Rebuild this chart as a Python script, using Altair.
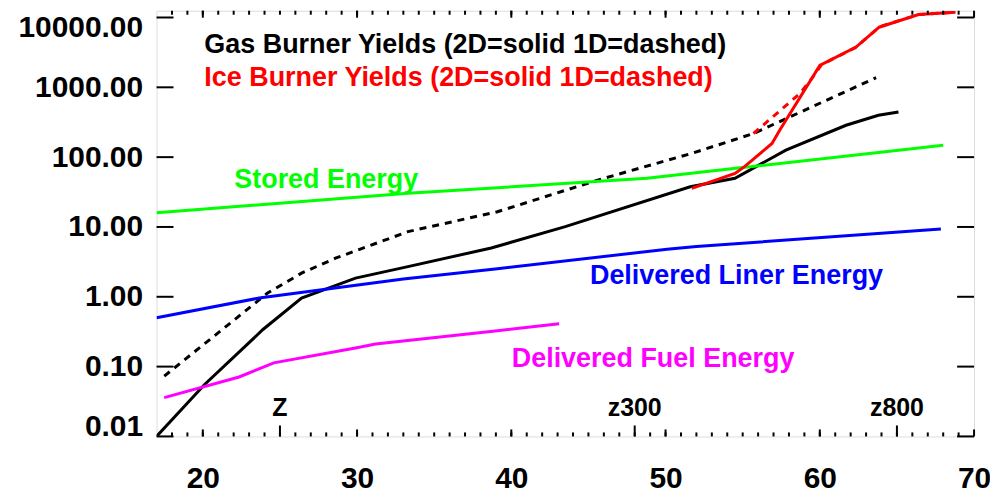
import altair as alt
import pandas as pd

# ---------------- data ----------------
gas2d_x = [17.0, 20.1, 23.9, 26.4, 29.9, 33.3, 38.7, 43.5, 51.6, 54.5, 57.8, 61.7, 63.8, 65.1]
gas2d_y = [0.01, 0.055, 0.34, 0.96, 1.85, 2.7, 5.0, 10.1, 37.6, 49.7, 126, 286, 398, 444]

gas1d_x = [17.5, 24.2, 26.4, 28.6, 33.3, 39.1, 45.6, 51.8, 55.7, 63.65]
gas1d_y = [0.073, 1.13, 2.18, 3.57, 8.57, 16.5, 46.9, 115, 218, 1376]

ice2d_x = [51.7, 54.5, 55.1, 56.9, 57.4, 60.0, 62.35, 63.85, 66.4, 68.8]
ice2d_y = [35.7, 58.5, 72.6, 157, 243, 2060, 3770, 7260, 11030, 11900]

ice1d_x = [55.7, 58.7, 59.5, 60.1, 62.3, 63.9, 66.4, 68.8]
ice1d_y = [218, 813, 1350, 2100, 3700, 7400, 11000, 11900]

stored_x = [17.0, 33.3, 48.8, 54.7, 68.0]
stored_y = [16.0, 30.3, 49.7, 69.7, 148]

liner_x = [17.0, 23.65, 33.0, 39.1, 50.1, 52.0, 67.85]
liner_y = [0.50, 0.96, 1.8, 2.52, 4.8, 5.24, 9.36]

fuel_x = [17.5, 22.35, 24.6, 29.9, 31.2, 39.1, 43.1]
fuel_y = [0.036, 0.071, 0.113, 0.185, 0.211, 0.327, 0.411]

x_tick_labels = [20, 30, 40, 50, 60, 70]
x_minor_ticks = list(range(18, 70))
y_ticks = [0.01, 0.1, 1, 10, 100, 1000, 10000]

z_ticks = [25, 48, 65]
z_labels = ["Z", "z300", "z800"]
z_label_y = [0.0195, 0.0195, 0.0195]

note_text = ["Gas Burner Yields (2D=solid 1D=dashed)",
             "Ice Burner Yields (2D=solid 1D=dashed)",
             "Stored Energy",
             "Delivered Liner Energy",
             "Delivered Fuel Energy"]
note_x = [20.1, 20.1, 22.04, 45.1, 40.03]
note_y = [3070, 1028, 35.6, 1.53, 0.0975]
note_color = ["#000000", "#ff0000", "#00ff00", "#0000ff", "#ff00ff"]

# ---------------- chart ----------------
W, H = 820, 427
FONT = "Liberation Sans"

xscale = alt.Scale(domain=[17, 70], nice=False, zero=False)
yscale = alt.Scale(type="log", domain=[0.01, 12500], nice=False)

xaxis = alt.Axis(values=x_tick_labels, format="d", labelFont=FONT, labelFontSize=30,
                 labelFontWeight="bold", labelColor="black", labelPadding=27,
                 ticks=False, tickSize=0, domain=False, grid=False, labelFlush=False,
                 title=None)
yaxis = alt.Axis(values=y_ticks, format=".2f", labelFont=FONT, labelFontSize=30,
                 labelFontWeight="bold", labelColor="black", labelPadding=14,
                 ticks=False, tickSize=0, domain=False, grid=False,
                 labelFlush=8, labelFlushOffset=5, title=None)

X = lambda: alt.X("x:Q", scale=xscale, axis=xaxis)
Y = lambda: alt.Y("y:Q", scale=yscale, axis=yaxis)


def series(xs, ys, color, dashed=False):
    kw = dict(color=color, strokeWidth=3, clip=True)
    if dashed:
        kw["strokeDash"] = [7, 6]
    return alt.Chart(pd.DataFrame({"x": xs, "y": ys})).mark_line(**kw).encode(
        x=X(), y=Y(), order="x:Q")


layers = [
    series(gas2d_x, gas2d_y, "#000000"),
    series(gas1d_x, gas1d_y, "#000000", dashed=True),
    series(stored_x, stored_y, "#00ff00"),
    series(liner_x, liner_y, "#0000ff"),
    series(fuel_x, fuel_y, "#ff00ff"),
    series(ice1d_x, ice1d_y, "#ff0000", dashed=True),
    series(ice2d_x, ice2d_y, "#ff0000"),
]

# y ticks (inward, both sides)
ytick_df = pd.DataFrame({"y": y_ticks})
layers.append(alt.Chart(ytick_df).mark_rule(color="black", strokeWidth=2).encode(
    y=Y(), x=alt.value(0), x2=alt.value(17)))
layers.append(alt.Chart(ytick_df).mark_rule(color="black", strokeWidth=2).encode(
    y=Y(), x=alt.value(W - 17), x2=alt.value(W)))

# x ticks (inward, bottom and top)
minor_df = pd.DataFrame({"x": x_minor_ticks})
major_df = pd.DataFrame({"x": x_tick_labels})
for df, ln in [(minor_df, 4), (major_df, 7)]:
    layers.append(alt.Chart(df).mark_rule(color="black", strokeWidth=2).encode(
        x=X(), y=alt.value(H), y2=alt.value(H - ln)))
    layers.append(alt.Chart(df).mark_rule(color="black", strokeWidth=2).encode(
        x=X(), y=alt.value(0), y2=alt.value(ln)))

# special z ticks and labels
z_df = pd.DataFrame({"x": z_ticks, "y": z_label_y, "t": z_labels})
layers.append(alt.Chart(z_df).mark_rule(color="black", strokeWidth=2).encode(
    x=X(), y=alt.value(H), y2=alt.value(H - 11)))
layers.append(alt.Chart(z_df).mark_text(font=FONT, fontSize=25, fontWeight="bold",
                                        color="black", align="center",
                                        baseline="alphabetic").encode(
    x=X(), y=Y(), text="t:N"))

# annotations
note_df = pd.DataFrame({"x": note_x, "y": note_y, "t": note_text, "c": note_color})
layers.append(alt.Chart(note_df).mark_text(font=FONT, fontSize=27, fontWeight="bold",
                                           align="left", baseline="alphabetic").encode(
    x=X(), y=Y(), text="t:N", color=alt.Color("c:N", scale=None)))

chart = alt.layer(*layers).properties(
    width=W, height=H,
    autosize=alt.AutoSizeParams(type="none"),
    padding={"left": 149, "top": 2, "right": 16, "bottom": 53},
    background="white",
).configure_view(stroke="black", strokeWidth=2).configure(font=FONT)

chart.save("out.html", embed_options={"renderer": "svg", "actions": False})
